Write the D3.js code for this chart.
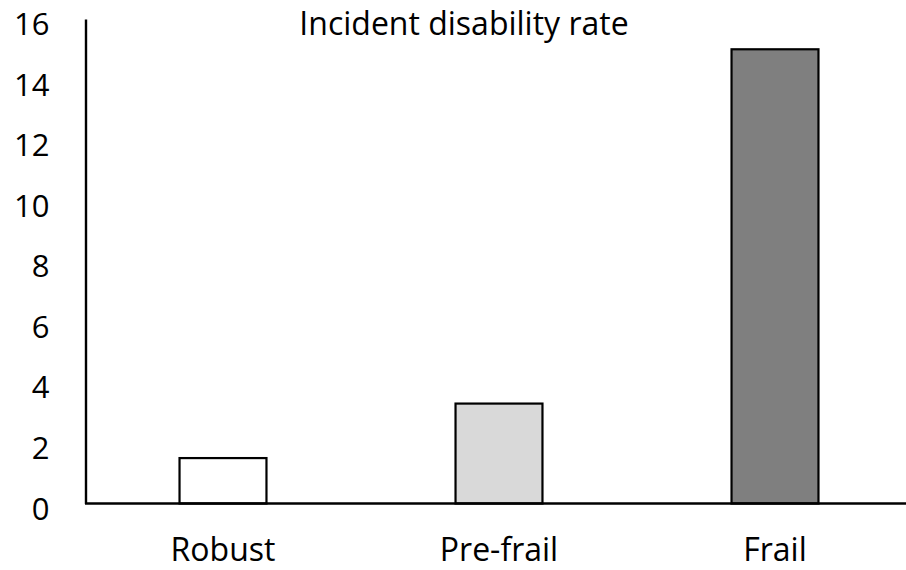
<!DOCTYPE html>
<html lang="en">
<head>
    <meta charset="UTF-8">
    <title>Incident disability rate</title>
    <style>
        body { margin: 0; background: #fff; }
        svg text { font-family: "Open Sans", sans-serif; fill: #000; }
    </style>
</head>
<body>
<div id="chart"></div>
<script src="https://d3js.org/d3.v7.min.js"></script>
<script>

    // data
    var categories = ["Robust", "Pre-frail", "Frail"];
    var rates = [1.5, 3.3, 15.0];
    var barColors = ["#ffffff", "#d9d9d9", "#7f7f7f"];
    var yTicks = [0, 2, 4, 6, 8, 10, 12, 14, 16];
    var title = "Incident disability rate";

    var width = 906,
        height = 570;

    var svg = d3.select("#chart").append("svg")
        .attr("width", width)
        .attr("height", height);

    var x = d3.scaleBand()
        .domain(categories)
        .range([85, 913])
        .paddingInner(0.685)
        .paddingOuter(0.3425);

    var y = d3.scaleLinear()
        .domain([0, 16])
        .range([503.5, 19]);

    // bars
    svg.append("g")
        .selectAll("rect")
        .data(rates)
        .enter().append("rect")
        .attr("x", function (d, i) { return x(categories[i]); })
        .attr("width", x.bandwidth())
        .attr("y", function (d) { return y(d); })
        .attr("height", function (d) { return y(0) - y(d); })
        .attr("fill", function (d, i) { return barColors[i]; })
        .attr("stroke", "#000")
        .attr("stroke-width", 2.2);

    // y axis
    var yAxis = svg.append("g")
        .attr("transform", "translate(85.5,0)")
        .call(d3.axisLeft(y).tickValues(yTicks).tickSize(0).tickPadding(36));
    yAxis.select(".domain").attr("stroke", "#000").attr("stroke-width", 2.4);
    yAxis.selectAll("text")
        .attr("font-family", "Open Sans")
        .attr("font-size", "31px")
        .attr("dy", "0.5em");

    // x axis
    var xAxis = svg.append("g")
        .attr("transform", "translate(0," + y(0) + ")")
        .call(d3.axisBottom(x).tickSize(0).tickPadding(35));
    xAxis.select(".domain")
        .attr("d", "M85,0H906")
        .attr("stroke", "#000").attr("stroke-width", 2.4);
    xAxis.selectAll("text")
        .attr("font-family", "Open Sans")
        .attr("font-size", "32px");

    svg.append("text")
        .attr("x", 464)
        .attr("y", 35)
        .attr("text-anchor", "middle")
        .attr("font-size", "32px")
        .text(title);

</script>
</body>
</html>
